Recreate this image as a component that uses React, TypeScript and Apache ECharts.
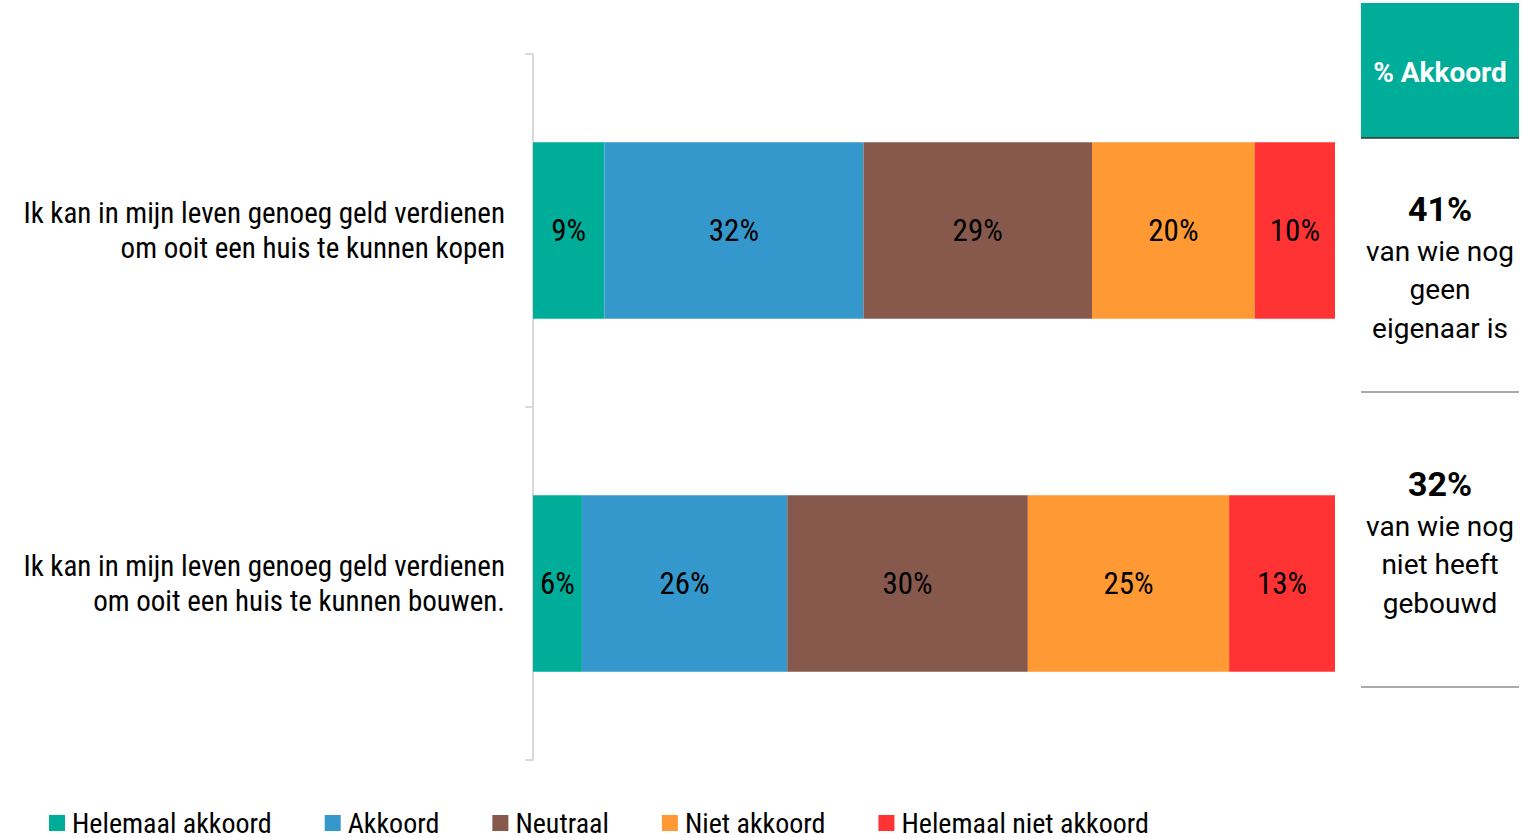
import React, { useEffect, useRef } from "react";
import * as echarts from "echarts";

const categories = [
  "Ik kan in mijn leven genoeg geld verdienen\nom ooit een huis te kunnen kopen",
  "Ik kan in mijn leven genoeg geld verdienen\nom ooit een huis te kunnen bouwen.",
];
const seriesNames = ["Helemaal akkoord", "Akkoord", "Neutraal", "Niet akkoord", "Helemaal niet akkoord"];
const helemaalAkkoord = [8.9, 6.1];
const akkoord = [32.3, 25.6];
const neutraal = [28.5, 30.0];
const nietAkkoord = [20.3, 25.1];
const helemaalNietAkkoord = [10.0, 13.2];
const sideValues = ["41%", "32%"];
const sideTexts = ["van wie nog\ngeen\neigenaar is", "van wie nog\nniet heeft\ngebouwd"];
const sideHeader = "% Akkoord";

const colors = ["#00ad99", "#3598cc", "#87594d", "#ff9933", "#ff3333"];
const condensed = "'Roboto Condensed', 'Liberation Sans Narrow', 'DejaVu Sans Condensed', sans-serif";

export default function App() {
  const ref = useRef<HTMLDivElement>(null);
  useEffect(() => {
    const chart = echarts.init(ref.current!, null, { renderer: "svg" });
    const dataSets = [helemaalAkkoord, akkoord, neutraal, nietAkkoord, helemaalNietAkkoord];
    chart.setOption({
      animation: false,
      color: colors,
      grid: { left: 533, right: 189, top: 54, bottom: 78 },
      legend: {
        left: 44,
        top: 804,
        itemWidth: 16,
        itemHeight: 16,
        itemGap: 53,
        icon: "rect",
        textStyle: { fontFamily: condensed, fontSize: 28, color: "#000", padding: [0, 0, 0, 2] },
        data: seriesNames,
      },
      xAxis: { type: "value", min: 0, max: 100, show: false },
      yAxis: {
        type: "category",
        inverse: true,
        data: categories,
        axisLine: { show: true, lineStyle: { color: "#d9d9d9", width: 2 } },
        axisTick: { show: true, length: 8, lineStyle: { color: "#d9d9d9", width: 2 } },
        axisLabel: {
          fontFamily: condensed,
          fontSize: 29,
          color: "#000",
          lineHeight: 35,
          align: "right",
          margin: 28,
        },
      },
      series: dataSets.map((d, i) => ({
        name: seriesNames[i],
        type: "bar",
        stack: "total",
        barWidth: "50%",
        data: d,
        itemStyle: { color: colors[i] },
        label: {
          show: true,
          position: "inside",
          fontFamily: condensed,
          fontSize: 31,
          color: "#000",
          formatter: (p: any) => Math.round(p.value) + "%",
        },
      })),
      graphic: [
        { type: "rect", shape: { x: 1361, y: 3, width: 158, height: 135 }, style: { fill: "#00ad99" } },
        { type: "line", shape: { x1: 1361, y1: 138, x2: 1519, y2: 138 }, style: { stroke: "#333", lineWidth: 1.5 } },
        {
          type: "text",
          x: 1440,
          y: 72,
          style: {
            text: sideHeader,
            fill: "#fff",
            fontFamily: "Roboto, sans-serif",
            fontWeight: "bold",
            fontSize: 28,
            align: "center",
            verticalAlign: "middle",
          },
        },
        {
          type: "text",
          x: 1440,
          y: 209,
          style: {
            text: sideValues[0],
            fill: "#000",
            fontFamily: "Roboto, sans-serif",
            fontWeight: "bold",
            fontSize: 34,
            align: "center",
            verticalAlign: "middle",
          },
        },
        {
          type: "text",
          x: 1440,
          y: 232,
          style: {
            text: sideTexts[0],
            fill: "#000",
            fontFamily: "Roboto, sans-serif",
            fontSize: 28,
            lineHeight: 38.5,
            align: "center",
            verticalAlign: "top",
          },
        },
        { type: "line", shape: { x1: 1361, y1: 392, x2: 1519, y2: 392 }, style: { stroke: "#555", lineWidth: 1 } },
        {
          type: "text",
          x: 1440,
          y: 484,
          style: {
            text: sideValues[1],
            fill: "#000",
            fontFamily: "Roboto, sans-serif",
            fontWeight: "bold",
            fontSize: 34,
            align: "center",
            verticalAlign: "middle",
          },
        },
        {
          type: "text",
          x: 1440,
          y: 507,
          style: {
            text: sideTexts[1],
            fill: "#000",
            fontFamily: "Roboto, sans-serif",
            fontSize: 28,
            lineHeight: 38.5,
            align: "center",
            verticalAlign: "top",
          },
        },
        { type: "line", shape: { x1: 1361, y1: 687, x2: 1519, y2: 687 }, style: { stroke: "#555", lineWidth: 1 } },
      ],
    });
    return () => chart.dispose();
  }, []);
  return <div ref={ref} style={{ width: 1524, height: 838, position: "absolute", left: 0, top: 0 }} />;
}
